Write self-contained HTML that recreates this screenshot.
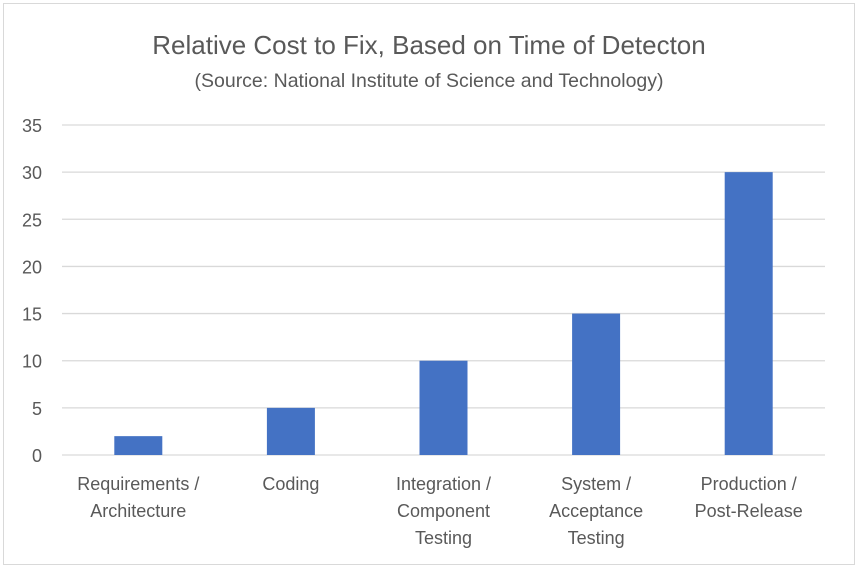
<!DOCTYPE html>
<html><head><meta charset="utf-8"><style>
body{margin:0;background:#fff;}
svg{display:block;font-family:"Liberation Sans",sans-serif;}
</style></head><body>
<svg id="chart" width="858" height="569">
<rect x="3.5" y="3.5" width="851" height="561" fill="#fff" stroke="#d9d9d9"/>
<text x="429" y="54" text-anchor="middle" font-size="26" fill="#595959">Relative Cost to Fix, Based on Time of Detecton</text>
<text x="429" y="87" text-anchor="middle" font-size="19.5" fill="#595959">(Source: National Institute of Science and Technology)</text>
<g id="grid"></g><g id="bars"></g><g id="labels"></g>
</svg>
<script>
const categories=[["Requirements /","Architecture"],["Coding"],["Integration /","Component","Testing"],["System /","Acceptance","Testing"],["Production /","Post-Release"]];
const values=[2,5,10,15,30];
const ticks=[0,5,10,15,20,25,30,35];
const NS="http://www.w3.org/2000/svg";
const x0=62,x1=825,y0=455,yTop=125,maxV=35;
const y=v=>y0-(y0-yTop)*v/maxV;
const band=(x1-x0)/categories.length;
const xc=i=>x0+band*(i+0.5);
function mk(t,a,p){const e=document.createElementNS(NS,t);for(const k in a)e.setAttribute(k,a[k]);p.appendChild(e);return e;}
const g=document.getElementById('grid'),b=document.getElementById('bars'),l=document.getElementById('labels');
ticks.forEach(t=>{
 const ln=mk('line',{x1:x0,x2:x1,y1:y(t),y2:y(t),stroke:'#d9d9d9','stroke-width':1.3},g);
 
 
 const tx=mk('text',{x:42,y:y(t)+7,'text-anchor':'end','font-size':18,fill:'#595959'},g);
 tx.textContent=t;
 
 
});
values.forEach((v,i)=>{
 const r=mk('rect',{x:xc(i)-24,y:y(v),width:48,height:y0-y(v),fill:'#4472c4'},b);
 
 
 const tx=mk('text',{'text-anchor':'middle','font-size':18,fill:'#595959'},l);
 
 
 categories[i].forEach((s,j)=>{const ts=mk('tspan',{x:xc(i),y:490+j*27},tx);ts.textContent=s;});
});
</script>
</body></html>
